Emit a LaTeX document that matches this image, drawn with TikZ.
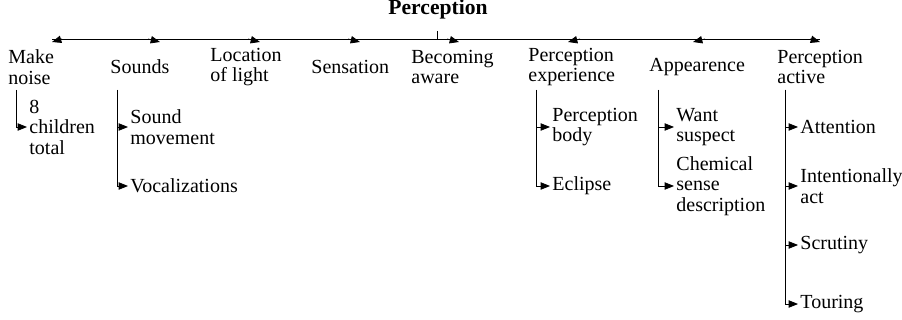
\documentclass[tikz,border=0pt]{standalone}
\usepackage{fontspec}
\setmainfont{Liberation Serif}
\usetikzlibrary{arrows.meta,positioning}
\tikzset{
  lbl/.style={font=\fontsize{15}{15.4}\selectfont, align=left, anchor=west,
    inner xsep=1.5pt, inner ysep=0pt},
  tip/.style={-{Triangle[length=7pt,width=5.5pt]}},
}
\begin{document}
\begin{tikzpicture}[x=0.75pt, y=-0.75pt, line width=0.6pt]
  % canvas in pixels, y running down
  \useasboundingbox (0,0) rectangle (902,320);

  % Root
  \node[font=\fontsize{16.2}{16}\selectfont\bfseries, inner sep=0pt, anchor=base]
    (root) at (438,15) {Perception};
  \coordinate (roottop) at (437,31);
  \coordinate (rootfoot) at (437,39);
  \draw (roottop) -- (rootfoot);

  % Bus line
  \coordinate (busl) at (52,39);
  \coordinate (busr) at (820,39);
  \draw (busl) -- (busr);

  % First level
  \foreach \n/\x/\t in {mk/6/{Make\\noise}, snd/108/{Sounds},
    loc/208/{Location\\of light}, sen/309/{Sensation},
    bec/409/{Becoming\\aware}, exp/526/{Perception\\experience},
    app/647/{Appearence}, act/775/{Perception\\active}} {
    \node[lbl] (\n) at (\x,67) {\t};
  }

  % Arrow tips on the bus
  \foreach \n/\a/\b in {mk/62/52, snd/148/160, loc/248/260, sen/348/360,
    bec/447/459, exp/580/568, app/705/693, act/810/820} {
    \coordinate (t\n) at (\b,42);
    \draw[tip] (\a,39) -- (t\n);
  }

  % Second level
  \node[lbl] (mk1) at (27,127) {8\\children\\total};
  \node[lbl] (snd1) at (128,127) {Sound\\movement};
  \node[lbl] (snd2) at (128,186) {Vocalizations};
  \node[lbl] (exp1) at (550,127) {Perception\\body};
  \node[lbl] (exp2) at (550,186) {Eclipse};
  \node[lbl] (app1) at (674,127) {Want\\suspect};
  \node[lbl] (app2) at (674,186) {Chemical\\sense\\description};
  \node[lbl] (act1) at (798,127) {Attention};
  \node[lbl] (act2) at (798,186) {Intentionally\\act};
  \node[lbl] (act3) at (798,245) {Scrutiny};
  \node[lbl] (act4) at (798,304) {Touring};

  % Elbow connectors
  \coordinate (mktop) at (16,90);
  \coordinate (sndtop) at (117,90);
  \coordinate (exptop) at (536,90);
  \coordinate (apptop) at (658,90);
  \coordinate (acttop) at (785,90);
  \draw[tip] (mktop) |- (mk1.west);
  \foreach \c in {snd1,snd2} \draw[tip] (sndtop) |- (\c.west);
  \foreach \c in {exp1,exp2} \draw[tip] (exptop) |- (\c.west);
  \foreach \c in {app1,app2} \draw[tip] (apptop) |- (\c.west);
  \foreach \c in {act1,act2,act3,act4} \draw[tip] (acttop) |- (\c.west);

\end{tikzpicture}
\end{document}
